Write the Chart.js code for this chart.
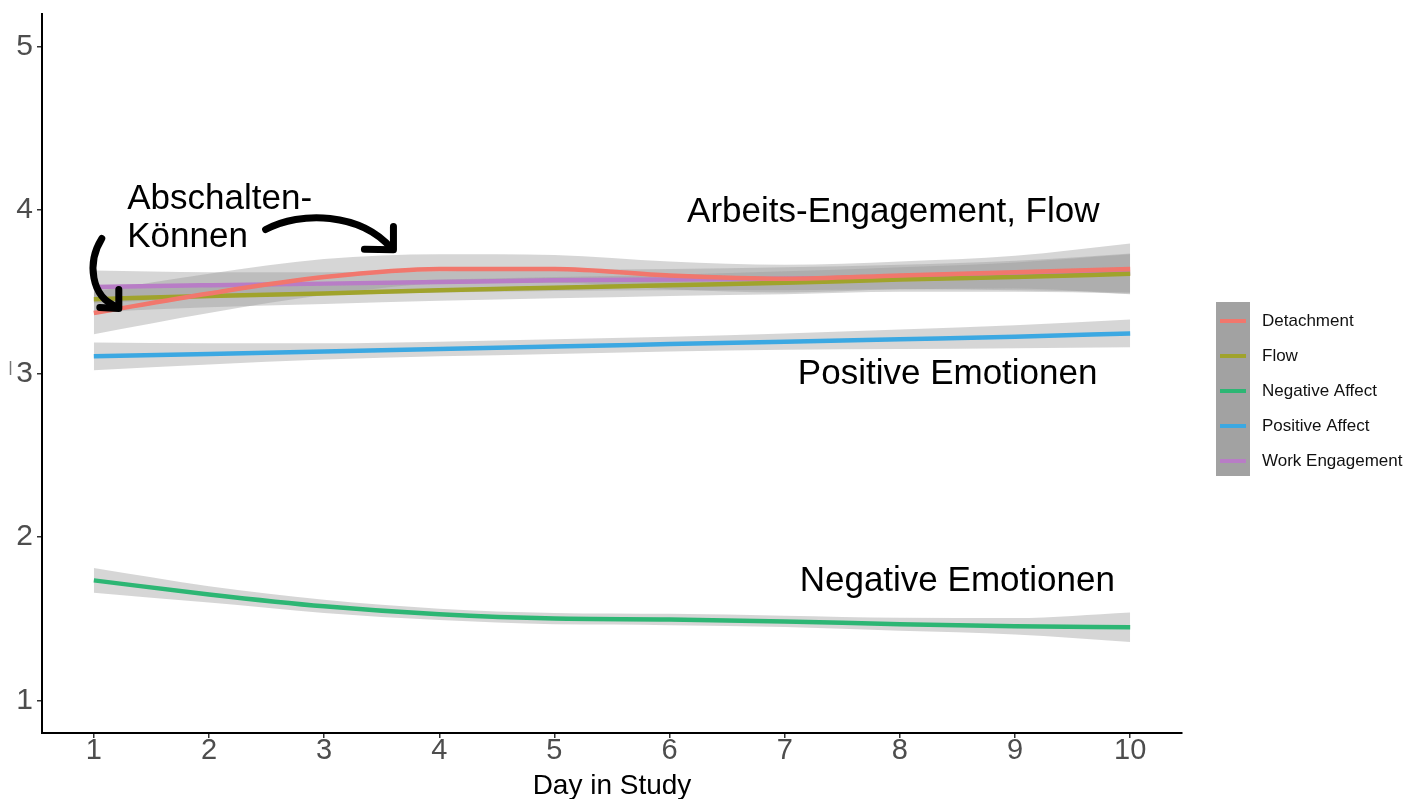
<!DOCTYPE html>
<html>
<head>
<meta charset="utf-8">
<script src="https://cdn.jsdelivr.net/npm/chart.js@4.4.1/dist/chart.umd.min.js"></script>
<style>
  html, body { margin: 0; padding: 0; background: #ffffff; }
  canvas { display: block; }
</style>
</head>
<body>
<canvas id="c" width="1422" height="799"></canvas>
<script>
// ---- data: smoothed daily means with confidence half-widths ----
const days = [1, 2, 3, 4, 5, 6, 7, 8, 9, 10];
const xTicks = [1, 2, 3, 4, 5, 6, 7, 8, 9, 10];
const yTicks = [1, 2, 3, 4, 5];
const seriesNames = ['Detachment', 'Flow', 'Negative Affect', 'Positive Affect', 'Work Engagement'];

const detachment   = [3.37, 3.49, 3.59, 3.64, 3.64, 3.60, 3.58, 3.60, 3.62, 3.64];
const detachmentCI = [0.13, 0.12, 0.11, 0.09, 0.085, 0.085, 0.085, 0.085, 0.10, 0.155];

const flow   = [3.455, 3.475, 3.49, 3.51, 3.525, 3.54, 3.555, 3.575, 3.59, 3.61];
const flowCI = [0.08, 0.07, 0.065, 0.065, 0.065, 0.065, 0.07, 0.075, 0.09, 0.12];

const negativeAffect   = [1.734, 1.648, 1.575, 1.526, 1.50, 1.495, 1.483, 1.465, 1.453, 1.447];
const negativeAffectCI = [0.075, 0.05, 0.04, 0.035, 0.035, 0.035, 0.035, 0.04, 0.05, 0.09];

const positiveAffect   = [3.105, 3.12, 3.135, 3.15, 3.165, 3.18, 3.195, 3.21, 3.225, 3.245];
const positiveAffectCI = [0.085, 0.065, 0.05, 0.045, 0.045, 0.045, 0.05, 0.06, 0.07, 0.085];

const workEngagement   = [3.53, 3.54, 3.55, 3.56, 3.57, 3.575, 3.58, 3.59, 3.60, 3.615];
const workEngagementCI = [0.10, 0.08, 0.07, 0.065, 0.065, 0.065, 0.07, 0.075, 0.09, 0.12];

const seriesValues = [detachment, flow, negativeAffect, positiveAffect, workEngagement];
const seriesCI = [detachmentCI, flowCI, negativeAffectCI, positiveAffectCI, workEngagementCI];
const seriesColors = ['#F1776D', '#A0A32C', '#2DB674', '#3BA8E2', '#B87DC6'];

// ---- annotation labels (day, value at baseline) ----
const labelTexts = ['Abschalten-', 'Können', 'Arbeits-Engagement, Flow', 'Positive Emotionen', 'Negative Emotionen'];
const labelDays = [1.29, 1.29, 6.152, 7.114, 7.13];
const labelValues = [4.009, 3.777, 3.93, 2.933, 1.667];

// curved arrows: start, control 1, control 2, end, then arrowhead corner and arms (day/value pairs)
const arrowPaths = [
  [[1.069, 3.826], [0.939, 3.679], [0.974, 3.471], [1.199, 3.410], [1.217, 3.398], [1.217, 3.514], [1.052, 3.404]],
  [[2.492, 3.881], [2.795, 3.997], [3.316, 3.985], [3.585, 3.766], [3.602, 3.758], [3.602, 3.899], [3.350, 3.760]]
];

const FONT = "'Liberation Sans', Arial, Helvetica, sans-serif";

function toPoints(vals) { return days.map((d, i) => ({ x: d, y: vals[i] })); }

const datasets = [];
// confidence ribbons (drawn first)
seriesValues.forEach((vals, s) => {
  const ci = seriesCI[s];
  datasets.push({
    label: seriesNames[s] + ' upper',
    data: toPoints(vals.map((v, i) => v + ci[i])),
    borderWidth: 0, pointRadius: 0,
    backgroundColor: 'rgba(153,153,153,0.4)',
    fill: '+1', cubicInterpolationMode: 'monotone', order: 10
  });
  datasets.push({
    label: seriesNames[s] + ' lower',
    data: toPoints(vals.map((v, i) => v - ci[i])),
    borderWidth: 0, pointRadius: 0,
    backgroundColor: 'rgba(0,0,0,0)',
    fill: false, cubicInterpolationMode: 'monotone', order: 10
  });
});
// smoothed lines on top
seriesValues.forEach((vals, s) => {
  datasets.push({
    label: seriesNames[s],
    data: toPoints(vals),
    borderColor: seriesColors[s],
    borderWidth: 4.5, pointRadius: 0, fill: false,
    cubicInterpolationMode: 'monotone',
    order: s === 4 ? 2 : 1
  });
});

const annotations = {
  id: 'annotations',
  afterDatasetsDraw(chart) {
    const { ctx, scales: { x, y } } = chart;
    ctx.save();
    // text labels
    ctx.fillStyle = '#000000';
    ctx.font = "35px " + FONT;
    ctx.textAlign = 'left';
    ctx.textBaseline = 'alphabetic';
    labelTexts.forEach((t, i) => {
      ctx.fillText(t, x.getPixelForValue(labelDays[i]), y.getPixelForValue(labelValues[i]));
    });
    // curved arrows
    ctx.strokeStyle = '#000000';
    ctx.lineWidth = 7;
    ctx.lineCap = 'round';
    ctx.lineJoin = 'round';
    arrowPaths.forEach(p => {
      const P = p.map(q => [x.getPixelForValue(q[0]), y.getPixelForValue(q[1])]);
      ctx.beginPath();
      ctx.moveTo(P[0][0], P[0][1]);
      ctx.bezierCurveTo(P[1][0], P[1][1], P[2][0], P[2][1], P[3][0], P[3][1]);
      ctx.stroke();
      ctx.beginPath();
      ctx.moveTo(P[5][0], P[5][1]);
      ctx.lineTo(P[4][0], P[4][1]);
      ctx.lineTo(P[6][0], P[6][1]);
      ctx.stroke();
    });
    ctx.restore();
  },
  afterDraw(chart) {
    const { ctx } = chart;
    ctx.save();
    // legend panel
    const lx = 1216, ly = 302, lw = 34, lh = 174;
    ctx.fillStyle = '#a2a2a2';
    ctx.fillRect(lx, ly, lw, lh);
    ctx.font = "17px " + FONT;
    ctx.textAlign = 'left';
    ctx.textBaseline = 'middle';
    seriesNames.forEach((name, i) => {
      const yy = ly + 19 + i * 35;
      ctx.strokeStyle = seriesColors[i];
      ctx.lineWidth = 4;
      ctx.beginPath();
      ctx.moveTo(lx + 4, yy);
      ctx.lineTo(lx + lw - 4, yy);
      ctx.stroke();
      ctx.fillStyle = '#111111';
      ctx.fillText(name, 1262, yy);
    });
    // small mark beside the axis
    ctx.strokeStyle = '#777777';
    ctx.lineWidth = 1.5;
    ctx.beginPath();
    ctx.moveTo(10.5, 361);
    ctx.lineTo(10.5, 375);
    ctx.stroke();
    ctx.restore();
  }
};

new Chart(document.getElementById('c'), {
  type: 'line',
  data: { datasets },
  plugins: [annotations],
  options: {
    responsive: false,
    animation: false,
    devicePixelRatio: 1,
    layout: { padding: { top: 14, right: 240, left: 0, bottom: 0 } },
    plugins: { legend: { display: false }, tooltip: { enabled: false } },
    scales: {
      x: {
        type: 'linear', min: 0.55, max: 10.45,
        afterBuildTicks: s => { s.ticks = xTicks.map(v => ({ value: v })); },
        afterFit: s => { s.height = 66; s.paddingLeft = 0; s.paddingRight = 0; },
        grid: { drawOnChartArea: false, drawTicks: true, tickLength: 5, color: '#333333', lineWidth: 1.5 },
        border: { display: true, color: '#000000', width: 2 },
        ticks: { font: { family: FONT, size: 29 }, color: '#4d4d4d', padding: -4, maxRotation: 0 },
        title: { display: true, text: 'Day in Study', font: { family: FONT, size: 28 }, color: '#000000', padding: { top: 0, bottom: -4 } }
      },
      y: {
        type: 'linear', min: 0.8, max: 5.2,
        afterBuildTicks: s => { s.ticks = yTicks.map(v => ({ value: v })); },
        afterFit: s => { s.width = 42; s.paddingTop = 0; s.paddingBottom = 0; },
        grid: { drawOnChartArea: false, drawTicks: true, tickLength: 5, color: '#333333', lineWidth: 1.5 },
        border: { display: true, color: '#000000', width: 2 },
        ticks: { font: { family: FONT, size: 30 }, color: '#4d4d4d', padding: 4 }
      }
    }
  }
});
</script>
</body>
</html>
